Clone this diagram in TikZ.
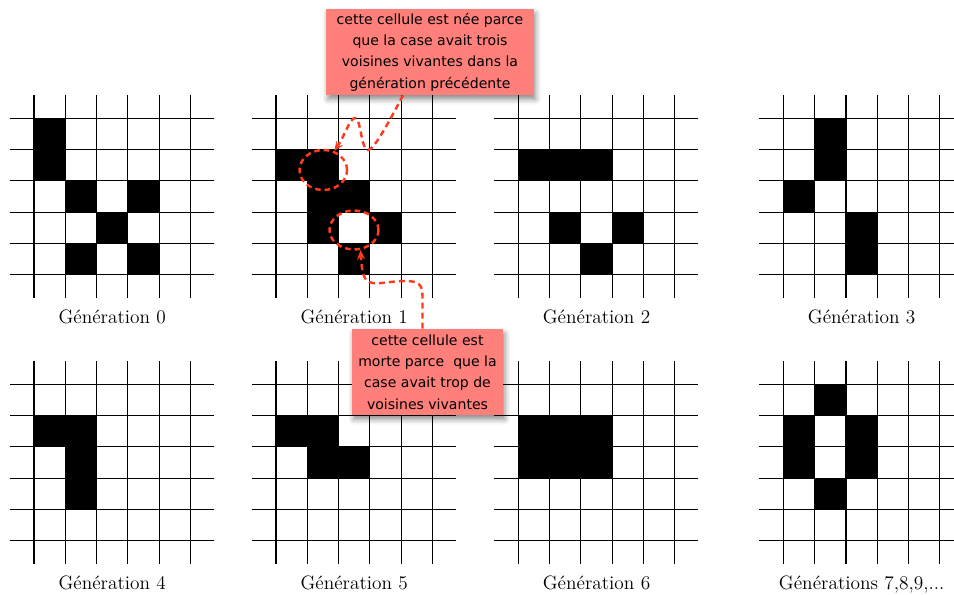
\documentclass[tikz,border=0pt]{standalone}
\usepackage{fontspec}
\newfontfamily\notefont{DejaVu Sans}
\usepackage{xcolor}
\definecolor{salmon}{HTML}{FF7F7B}
\definecolor{flame}{HTML}{FF3B1C}
\usetikzlibrary{arrows.meta,positioning,calc,shapes.geometric,shadows.blur}
\tikzset{
  >={Stealth[length=1.9mm,width=1.6mm]},
  gridline/.style={draw=black,line width=0.6pt},
  live/.style    ={fill=black},
  genlabel/.style={font=\fontsize{11}{12}\selectfont,anchor=base,inner sep=0pt},
  notebox/.style ={fill=salmon,font=\notefont\fontsize{8}{12.2}\selectfont,
                   align=center,inner sep=2pt,
                   blur shadow={shadow xshift=1pt,shadow yshift=-2.5pt,
                                shadow blur radius=3pt,shadow opacity=45}},
  ring/.style    ={ellipse,draw=flame,line width=1.4pt,inner sep=0pt,
                   dash pattern=on 3.2pt off 2.2pt},
  pointer/.style ={->,draw=flame,line width=1.4pt,dash pattern=on 3.4pt off 2.3pt},
}
\def\cs{31.3}
\begin{document}
\begin{tikzpicture}[x=0.02cm,y=-0.02cm]
\useasboundingbox (0,0) rectangle (954,595);
% grids, one per generation
\foreach \gx/\gy/\cells/\lab [count=\i] in {
    34/118.3/{0/0,0/1,1/2,3/2,2/3,1/4,3/4}/{Génération 0},
    276/118.3/{0/1,1/1,1/2,2/2,1/3,3/3,2/4}/{Génération 1},
    518.3/118.3/{0/1,1/1,2/1,1/3,3/3,2/4}/{Génération 2},
    783.4/118.3/{1/0,1/1,0/2,2/3,2/4}/{Génération 3},
    34/384.3/{0/1,1/1,1/2,1/3}/{Génération 4},
    276/384.3/{0/1,1/1,1/2,2/2}/{Génération 5},
    518.3/384.3/{0/1,1/1,2/1,0/2,1/2,2/2}/{Génération 6},
    783.4/384.3/{1/0,0/1,2/1,0/2,2/2,1/3}/{Générations 7,8,9,...}}
{
  \foreach \c/\r in \cells
    \fill[live] (\gx+\c*\cs,\gy+\r*\cs) rectangle ++(\cs,\cs);
  \foreach \k in {0,...,5}{
    \draw[gridline] (\gx+\k*\cs,\gy-23) -- ++(0,5*\cs+46);
    \draw[gridline] (\gx-24,\gy+\k*\cs) -- ++(5*\cs+47,0);
  }
  \node[genlabel] (gen\i) at (\gx+2.5*\cs,\gy+205) {\lab};
}
% marked cells
\node[ring,minimum width=0.95cm,minimum height=0.8cm] (bornring) at (323.3,170) {};
\node[ring,minimum width=0.98cm,minimum height=0.78cm] (deadring) at (354,230) {};
% notes
\node[notebox,minimum width=4.16cm,minimum height=1.72cm] (born) at (430,52)
  {cette cellule est née parce\\que la case avait trois\\voisines vivantes dans la\\génération précédente};
\node[notebox,minimum width=3.03cm,minimum height=1.72cm] (dead) at (427.5,372)
  {cette cellule est\\morte parce~ que la\\case avait trop de\\voisines vivantes};
% pointers
\draw[pointer] ($(born.south)+(-27,0)$) .. controls (390,120) and (374,150) .. (368,150)
  .. controls (361,150) and (361,118) .. (355,118)
  .. controls (350,118) and (344,137) .. (bornring.60);
\draw[pointer] ($(dead.north)+(-5,0)$) -- (422.5,296)
  .. controls (422.5,284) and (418,281) .. (405,281)
  .. controls (392,281) and (382,284) .. (373,283)
  .. controls (363,282) and (362,272) .. (deadring.-72);
\end{tikzpicture}
\end{document}
